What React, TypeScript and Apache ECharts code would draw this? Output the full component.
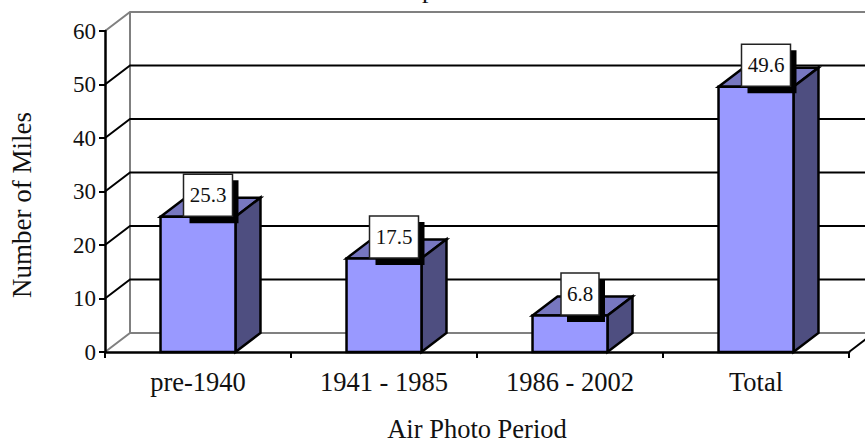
import React, { useEffect, useRef } from "react";
import * as echarts from "echarts";

const categories = ["pre-1940", "1941 - 1985", "1986 - 2002", "Total"];
const milesValues = [25.3, 17.5, 6.8, 49.6];
const yTicks = [0, 10, 20, 30, 40, 50, 60];
const xAxisTitle = "Air Photo Period";
const yAxisTitle = "Number of Miles";
const croppedTitleFragment = "p";

const FONT = "Liberation Serif";
const DX = 25;
const DY = -19;
const FRONT = "#9999ff";
const TOP = "#7777c0";
const SIDE = "#4e4e80";
const WALL = "#808080";

function renderWalls(params: any, api: any) {
  const v = api.value(1);
  const size = api.size([1, 0])[0];
  const [cx, y] = api.coord([0, v]);
  const left = cx - size / 2;
  const right = left + size * categories.length;
  const isEdge = v === 0 || v === yTicks[yTicks.length - 1];
  const color = isEdge ? WALL : "#000";
  const children: any[] = [
    { type: "polyline", shape: { points: [[left, y], [left + DX, y + DY], [right + DX, y + DY]] }, style: { stroke: color, lineWidth: 2, fill: "none" } },
  ];
  if (v === 0) {
    const top = api.coord([0, yTicks[yTicks.length - 1]])[1];
    children.push({ type: "line", shape: { x1: left + DX, y1: y + DY, x2: left + DX, y2: top + DY }, style: { stroke: WALL, lineWidth: 2 } });
    children.push({ type: "line", shape: { x1: right, y1: y, x2: right + DX, y2: y + DY }, style: { stroke: "#000", lineWidth: 2 } });
  }
  return { type: "group", children };
}

function renderBar(params: any, api: any) {
  const idx = api.value(0);
  const v = api.value(1);
  const [cx, y1] = api.coord([idx, v]);
  const y0 = api.coord([idx, 0])[1];
  const w = api.size([1, 0])[0] * 0.403;
  const x0 = cx - w / 2;
  const x1 = cx + w / 2;
  const border = { stroke: "#000", lineWidth: 2.5, lineJoin: "miter" };
  const text = String(v);
  const boxW = text.length > 3 ? 49 : 38;
  const boxH = 42;
  const boxX = cx + 10 - boxW / 2;
  const boxY = y1 - 22 - boxH / 2 + 0.5;
  return {
    type: "group",
    children: [
      { type: "polygon", shape: { points: [[x0, y1], [x0 + DX, y1 + DY], [x1 + DX, y1 + DY], [x1, y1]] }, style: { fill: TOP, ...border } },
      { type: "polygon", shape: { points: [[x1, y1], [x1 + DX, y1 + DY], [x1 + DX, y0 + DY], [x1, y0]] }, style: { fill: SIDE, ...border } },
      { type: "rect", shape: { x: x0, y: y1, width: w, height: y0 - y1 }, style: { fill: FRONT, ...border } },
      { type: "rect", shape: { x: boxX + 6, y: boxY + 6, width: boxW, height: boxH + 1 }, style: { fill: "#000" } },
      { type: "rect", shape: { x: boxX, y: boxY, width: boxW, height: boxH }, style: { fill: "#fff", stroke: "#222", lineWidth: 1.5 } },
      { type: "text", style: { x: boxX + boxW / 2, y: boxY + boxH / 2, text, fill: "#111", font: `21px "${FONT}"`, align: "center", verticalAlign: "middle" } },
    ],
  };
}

export default function App() {
  const ref = useRef<HTMLDivElement>(null);
  useEffect(() => {
    document.body.style.margin = "0";
    const chart = echarts.init(ref.current!, undefined, { renderer: "svg" });
    chart.setOption({
      animation: false,
      backgroundColor: "#fff",
      textStyle: { fontFamily: FONT },
      title: { text: croppedTitleFragment, left: 422, top: -24, padding: 0, textStyle: { fontFamily: FONT, fontSize: 26, fontWeight: "normal", color: "#111" } },
      grid: { left: 105, right: 16, top: 31, bottom: 87, outerBoundsMode: "none" },
      xAxis: {
        type: "category",
        data: categories,
        z: 10,
        name: xAxisTitle,
        nameLocation: "middle",
        nameGap: 77,
        nameTextStyle: { fontFamily: FONT, fontSize: 26.5, color: "#111", lineHeight: 20, verticalAlign: "middle" },
        axisLine: { lineStyle: { color: "#000", width: 2.5 } },
        axisTick: { show: true, alignWithLabel: false, length: 6, lineStyle: { color: "#000", width: 2 } },
        axisLabel: { fontFamily: FONT, fontSize: 26.5, color: "#111", margin: 16, interval: 0 },
        splitLine: { show: false },
      },
      yAxis: {
        type: "value",
        min: 0,
        max: 60,
        interval: 10,
        z: 10,
        name: yAxisTitle,
        nameLocation: "middle",
        nameGap: 70,
        nameRotate: 90,
        nameTextStyle: { fontFamily: FONT, fontSize: 27, color: "#111", padding: [0, 27, 0, 0] },
        axisLine: { show: true, lineStyle: { color: "#000", width: 2.5 } },
        axisTick: { show: true, length: 6, lineStyle: { color: "#000", width: 2 } },
        axisLabel: { fontFamily: FONT, fontSize: 23, color: "#111", margin: 9 },
        splitLine: { show: false },
      },
      series: [
        { type: "custom", z: 1, silent: true, renderItem: renderWalls, data: yTicks.map((t) => [0, t]), encode: { x: 0, y: 1 } },
        { type: "custom", z: 3, renderItem: renderBar, data: milesValues.map((v, i) => [i, v]), encode: { x: 0, y: 1 } },
      ],
    });
    return () => chart.dispose();
  }, []);
  return <div ref={ref} style={{ width: 865, height: 439 }} />;
}
